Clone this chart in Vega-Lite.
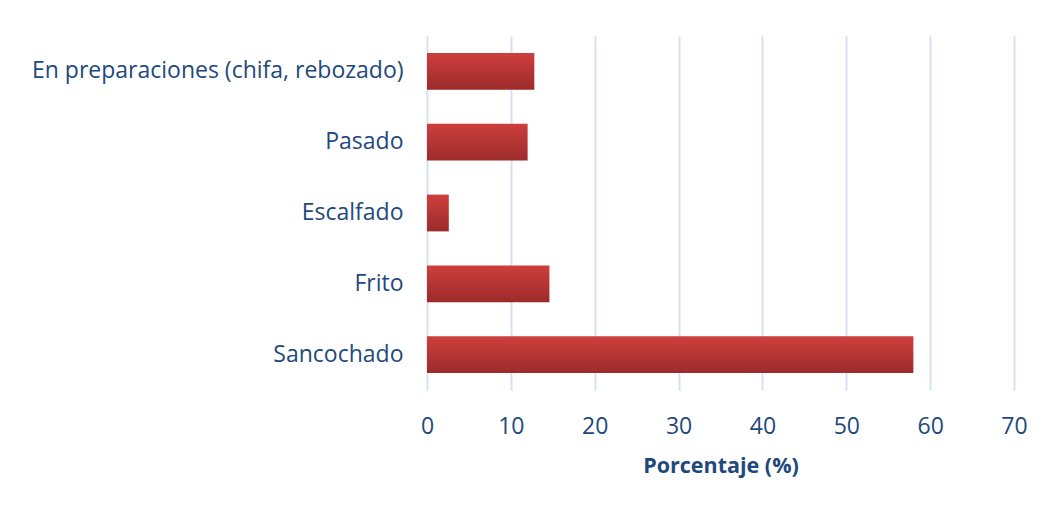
{
  "$schema": "https://vega.github.io/schema/vega-lite/v6.json",
  "autosize": "none",
  "width": 587,
  "height": 354,
  "padding": {"left": 427, "top": 36, "right": 38, "bottom": 120},
  "background": "white",
  "config": {"view": {"stroke": null}, "font": "Open Sans"},
  "data": {"values": [
    {"metodo": "En preparaciones (chifa, rebozado)", "pct": 12.8},
    {"metodo": "Pasado", "pct": 12.0},
    {"metodo": "Escalfado", "pct": 2.6},
    {"metodo": "Frito", "pct": 14.6},
    {"metodo": "Sancochado", "pct": 58.0}
  ]},
  "mark": {
    "type": "bar",
    "color": {"gradient": "linear", "x1": 0, "y1": 0, "x2": 0, "y2": 1,
      "stops": [{"offset": 0, "color": "#CD3F3C"}, {"offset": 1, "color": "#9C2B2B"}]}
  },
  "encoding": {
    "y": {"field": "metodo", "type": "nominal", "sort": null,
      "scale": {"paddingInner": 0.48, "paddingOuter": 0.24},
      "axis": {"title": null, "domain": false, "ticks": false, "grid": false,
        "labelFontSize": 23, "labelColor": "#1F497D", "labelPadding": 24, "labelLimit": 500}},
    "x": {"field": "pct", "type": "quantitative",
      "scale": {"domain": [0, 70], "nice": false},
      "axis": {"values": [0, 10, 20, 30, 40, 50, 60, 70], "domain": false, "ticks": false,
        "grid": true, "gridColor": "#D6E1F2", "gridWidth": 2, "labelFlush": false,
        "labelFontSize": 23, "labelColor": "#1F497D", "labelPadding": 25,
        "title": "Porcentaje (%)", "titleFontSize": 21.5, "titleFontWeight": "bold",
        "titleColor": "#1F497D", "titlePadding": 17}}
  }
}
